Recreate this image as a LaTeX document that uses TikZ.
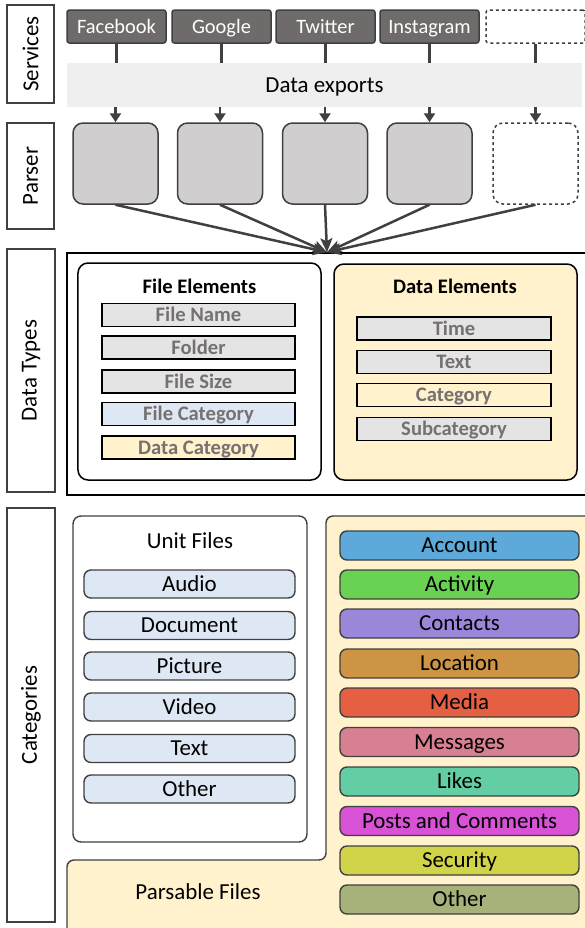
\documentclass[tikz,border=0pt]{standalone}
\usepackage{fontspec}
\setmainfont{Carlito}
\usetikzlibrary{arrows.meta}
\definecolor{svcfill}{HTML}{6F6B6B}
\definecolor{dark}{HTML}{404040}
\definecolor{bandgray}{HTML}{EFEFEF}
\definecolor{parserfill}{HTML}{D0CECE}
\definecolor{itemgray}{HTML}{E5E4E4}
\definecolor{itemtext}{HTML}{767171}
\definecolor{lightblue}{HTML}{DEE8F4}
\definecolor{lightyellow}{HTML}{FFF2CC}
\definecolor{cAccount}{HTML}{5DAADA}
\definecolor{cActivity}{HTML}{69D253}
\definecolor{cContacts}{HTML}{9A87D9}
\definecolor{cLocation}{HTML}{CD9446}
\definecolor{cMedia}{HTML}{E55F43}
\definecolor{cMessages}{HTML}{D78092}
\definecolor{cLikes}{HTML}{63CEA4}
\definecolor{cPosts}{HTML}{D752D5}
\definecolor{cSecurity}{HTML}{D1D448}
\definecolor{cOther}{HTML}{A7B27A}
\begin{document}
\begin{tikzpicture}[x=1bp,y=-1bp,
  capbig/.style={text height=14.8bp, text depth=0pt},
  capsmall/.style={text height=13.3bp, text depth=0pt},
  lbl/.style={draw=dark, line width=1.4bp, fill=white, inner sep=0pt, rotate=90,
    font=\fontsize{23}{27}\selectfont},
  svc/.style={draw=dark, fill=svcfill, rounded corners=2.5bp, line width=1.5bp, text=white, capsmall,
    minimum width=99bp, minimum height=33bp, inner sep=0pt, font=\fontsize{20.5}{24}\selectfont},
  svcdash/.style={svc, fill=white, dashed},
  band/.style={fill=bandgray, minimum width=515bp, minimum height=44bp, inner sep=0pt, capbig,
    font=\fontsize{23}{27}\selectfont},
  parser/.style={draw=dark, fill=parserfill, rounded corners=10bp, line width=1.5bp,
    minimum width=85bp, minimum height=81bp, inner sep=0pt},
  parserdash/.style={parser, fill=white, dashed},
  link/.style={draw=dark, line width=2.5bp},
  arr/.style={link, -{Triangle[length=9bp,width=11bp]}},
  conv/.style={link, -{Stealth[length=14bp,width=12bp,inset=3bp]}},
  outer/.style={draw=black, line width=1.5bp, inner sep=0pt},
  panel/.style={draw=black, line width=1.5bp, rounded corners=10bp, inner sep=0pt},
  ptitle/.style={font=\fontsize{20.7}{24}\selectfont\bfseries, inner sep=0pt, capsmall},
  dtitem/.style={draw=black, line width=1.8bp, fill=itemgray, text=itemtext, inner sep=0pt, capsmall,
    minimum height=23bp, font=\fontsize{20.7}{24}\selectfont\bfseries},
  unit/.style={draw=dark, line width=1.4bp, fill=lightblue, rounded corners=7bp, inner sep=0pt, capbig,
    minimum width=211bp, minimum height=28bp, font=\fontsize{23}{27}\selectfont},
  cat/.style={draw=dark, line width=1.4bp, rounded corners=7bp, inner sep=0pt, capbig,
    minimum width=239bp, minimum height=29bp, font=\fontsize{23}{27}\selectfont},
  plain/.style={inner sep=0pt, capbig, font=\fontsize{23}{27}\selectfont}
]
\useasboundingbox (0,0) rectangle (585,928);
\fill[white] (0,0) rectangle (585,928);

% left labels
\node[lbl, minimum width=98bp, minimum height=47bp] (lsvc) at (30.5,54) {Services};
\node[lbl, minimum width=106bp, minimum height=47bp] (lpar) at (30.5,176) {Parser};
\node[lbl, minimum width=243bp, minimum height=48bp] (ldt) at (31,370.5) {Data Types};
\node[lbl, minimum width=414bp, minimum height=48bp] (lcat) at (31,715) {Categories};

% services
\node[band] (band) at (324.5,85) {Data exports};
\node[svc] (fb) at (116.5,26.5) {Facebook};
\node[svc] (gg) at (221.5,26.5) {Google};
\node[svc] (tw) at (325.5,26.5) {Twitter};
\node[svc] (ig) at (429.5,26.5) {Instagram};
\node[svcdash] (sx) at (535.5,26.5) {};

% parsers
\node[parser] (p1) at (115.5,163.5) {};
\node[parser] (p2) at (220,163.5) {};
\node[parser] (p3) at (325,163.5) {};
\node[parser] (p4) at (429.5,163.5) {};
\node[parserdash] (p5) at (535.5,163.5) {};

\foreach \s/\p in {fb/p1,gg/p2,tw/p3,ig/p4,sx/p5}{
  \draw[link] (\s.south) -- (\s.south |- band.north);
  \draw[arr] (\p.north |- band.south) -- (\p.north);
}

% data types
\node[outer, minimum width=520bp, minimum height=242bp] (dtbox) at (327,374) {};
\coordinate (hub) at (dtbox.north);
\foreach \p in {p1,p2,p3,p4,p5}{
  \draw[conv] (\p.south) -- (hub);
}

\node[panel, fill=white, minimum width=243bp, minimum height=217bp] (fe) at (199.5,371.5) {};
\node[ptitle] (fet) at (199.5,287) {File Elements};
\node[dtitem, minimum width=193bp] (fe1) at (198.5,315) {File Name};
\node[dtitem, minimum width=193bp] (fe2) at (198.5,347.5) {Folder};
\node[dtitem, minimum width=193bp] (fe3) at (198.5,381.5) {File Size};
\node[dtitem, minimum width=193bp, fill=lightblue] (fe4) at (198.5,414) {File Category};
\node[dtitem, minimum width=193bp, fill=lightyellow] (fe5) at (198.5,447.5) {Data Category};

\node[panel, fill=lightyellow, minimum width=243bp, minimum height=216bp] (de) at (455.5,372) {};
\node[ptitle] (det) at (455,287) {Data Elements};
\node[dtitem, minimum width=194bp] (de1) at (454,328.5) {Time};
\node[dtitem, minimum width=194bp] (de2) at (454,362) {Text};
\node[dtitem, minimum width=194bp, fill=lightyellow] (de3) at (454,395) {Category};
\node[dtitem, minimum width=194bp] (de4) at (454,429) {Subcategory};

% categories
\filldraw[fill=lightyellow, draw=dark, line width=1.4bp, rounded corners=7bp]
  (67,935) -- (67,860) -- (326,860) -- (326,516) -- (592,516) [sharp corners] -- (592,935) -- cycle;
\node[plain] (pf) at (198,892) {Parsable Files};

\node[draw=dark, line width=1.4bp, fill=white, rounded corners=8bp, inner sep=0pt,
  minimum width=234bp, minimum height=326bp] (uf) at (190,679) {};
\node[plain] (uft) at (190,541) {Unit Files};
\node[unit] (u1) at (189.5,584) {Audio};
\node[unit] (u2) at (189.5,625.5) {Document};
\node[unit] (u3) at (189.5,666) {Picture};
\node[unit] (u4) at (189.5,707) {Video};
\node[unit] (u5) at (189.5,748.5) {Text};
\node[unit] (u6) at (189.5,789) {Other};

\node[cat, fill=cAccount] (c1) at (459.5,545.5) {Account};
\node[cat, fill=cActivity] (c2) at (459.5,584.5) {Activity};
\node[cat, fill=cContacts] (c3) at (459.5,623.5) {Contacts};
\node[cat, fill=cLocation] (c4) at (459.5,663.5) {Location};
\node[cat, fill=cMedia] (c5) at (459.5,702.5) {Media};
\node[cat, fill=cMessages] (c6) at (459.5,742) {Messages};
\node[cat, fill=cLikes] (c7) at (459.5,781.5) {Likes};
\node[cat, fill=cPosts] (c8) at (459.5,821) {Posts and Comments};
\node[cat, fill=cSecurity] (c9) at (459.5,860.5) {Security};
\node[cat, fill=cOther] (c10) at (459.5,899.5) {Other};
\end{tikzpicture}
\end{document}
